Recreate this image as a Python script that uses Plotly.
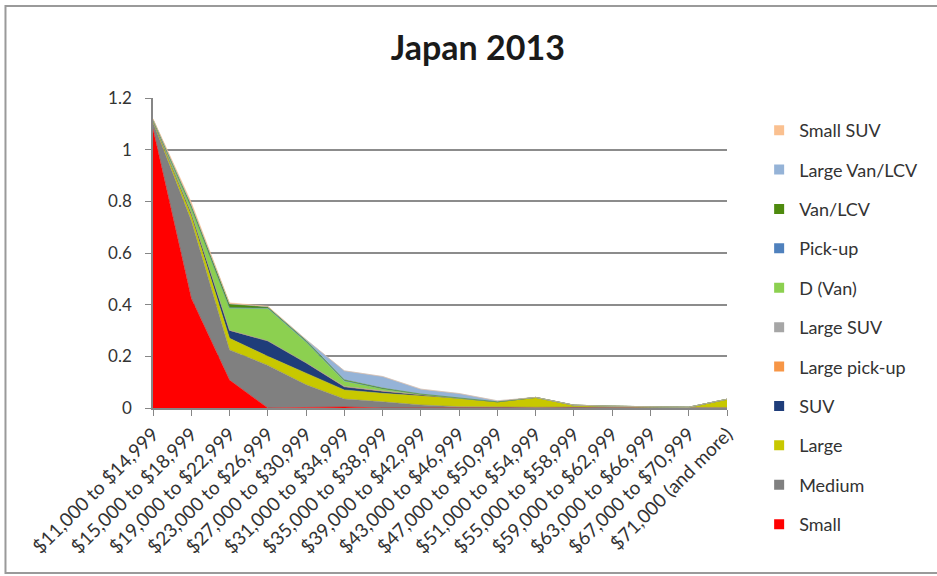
import plotly.graph_objects as go

# Price bands (x categories)
price_bands = [
    "$11,000 to $14,999", "$15,000 to $18,999", "$19,000 to $22,999",
    "$23,000 to $26,999", "$27,000 to $30,999", "$31,000 to $34,999",
    "$35,000 to $38,999", "$39,000 to $42,999", "$43,000 to $46,999",
    "$47,000 to $50,999", "$51,000 to $54,999", "$55,000 to $58,999",
    "$59,000 to $62,999", "$63,000 to $66,999", "$67,000 to $70,999",
    "$71,000 (and more)",
]

# Segment values, bottom of the stack first
small =          [1.080, 0.425, 0.108, 0.000, 0.002, 0.004, 0.000, 0.000, 0.000, 0.000, 0.000, 0.000, 0.000, 0.000, 0.000, 0.000]
medium =         [0.025, 0.300, 0.117, 0.165, 0.088, 0.031, 0.024, 0.012, 0.005, 0.003, 0.003, 0.004, 0.003, 0.002, 0.002, 0.002]
large =          [0.005, 0.020, 0.045, 0.035, 0.045, 0.035, 0.033, 0.036, 0.032, 0.021, 0.038, 0.007, 0.004, 0.002, 0.001, 0.032]
suv =            [0.003, 0.010, 0.030, 0.060, 0.040, 0.012, 0.008, 0.003, 0.000, 0.000, 0.000, 0.000, 0.000, 0.000, 0.000, 0.000]
large_pickup =   [0.000, 0.001, 0.001, 0.000, 0.000, 0.000, 0.000, 0.000, 0.000, 0.000, 0.000, 0.000, 0.000, 0.000, 0.000, 0.000]
large_suv =      [0.000, 0.000, 0.000, 0.000, 0.000, 0.002, 0.002, 0.000, 0.000, 0.000, 0.000, 0.000, 0.000, 0.000, 0.000, 0.000]
d_van =          [0.002, 0.020, 0.085, 0.125, 0.080, 0.020, 0.008, 0.003, 0.002, 0.000, 0.000, 0.000, 0.000, 0.000, 0.000, 0.000]
pickup =         [0.000, 0.000, 0.002, 0.002, 0.003, 0.002, 0.000, 0.000, 0.000, 0.000, 0.000, 0.000, 0.000, 0.000, 0.000, 0.000]
van_lcv =        [0.002, 0.010, 0.015, 0.005, 0.003, 0.003, 0.002, 0.000, 0.000, 0.000, 0.000, 0.000, 0.000, 0.000, 0.000, 0.000]
large_van_lcv =  [0.000, 0.000, 0.000, 0.000, 0.004, 0.035, 0.045, 0.019, 0.017, 0.004, 0.000, 0.000, 0.000, 0.000, 0.000, 0.000]
small_suv =      [0.003, 0.010, 0.004, 0.002, 0.000, 0.000, 0.000, 0.000, 0.000, 0.000, 0.000, 0.000, 0.000, 0.000, 0.000, 0.000]

series = [
    ("Small", small, "#ff0000"),
    ("Medium", medium, "#808080"),
    ("Large", large, "#c8c800"),
    ("SUV", suv, "#1f3d7a"),
    ("Large pick-up", large_pickup, "#f79646"),
    ("Large SUV", large_suv, "#a6a6a6"),
    ("D (Van)", d_van, "#8cd050"),
    ("Pick-up", pickup, "#4f81bd"),
    ("Van/LCV", van_lcv, "#4e8a0e"),
    ("Large Van/LCV", large_van_lcv, "#95b3d7"),
    ("Small SUV", small_suv, "#fac090"),
]

fig = go.Figure()
n = len(series)
for i, (name, vals, color) in enumerate(series):
    # stacked area layer
    fig.add_trace(go.Scatter(
        x=price_bands, y=vals, name=name,
        mode="lines", stackgroup="one",
        line=dict(width=0.5, color=color),
        fillcolor=color, showlegend=False,
        legendgroup=name,
    ))
    # square swatch for the legend (top of the stack listed first)
    fig.add_trace(go.Scatter(
        x=[None], y=[None], name=name, mode="markers",
        marker=dict(symbol="square", size=10, color=color),
        legendgroup=name, legendrank=n - i, showlegend=True,
        hoverinfo="skip",
    ))

font_family = "Lato, 'Open Sans', sans-serif"

fig.update_layout(
    width=937, height=576,
    margin=dict(l=153, r=210, t=98, b=168, autoexpand=False),
    paper_bgcolor="white", plot_bgcolor="white",
    title=dict(text="<b>Japan 2013</b>", x=0.51, xanchor="center",
               y=0.917, yanchor="middle",
               font=dict(family=font_family, size=34, color="#1a1a1a")),
    font=dict(family=font_family, size=16, color="#333333"),
    showlegend=True,
    legend=dict(traceorder="grouped", tracegroupgap=13,
                x=1.056, xanchor="left",
                y=0.955, yanchor="top",
                font=dict(size=18, color="#333333"),
                itemwidth=30, maxheight=540, bgcolor="rgba(0,0,0,0)"),
    shapes=[dict(type="rect", xref="paper", yref="paper",
                 x0=-0.257, x1=1.40, y0=-0.532, y1=1.297,
                 line=dict(color="#9a9a9a", width=2))],
)

fig.update_xaxes(
    type="category", range=[0, len(price_bands) - 1],
    tickangle=-45, ticks="outside", ticklen=6, tickcolor="#868686",
    showline=True, linecolor="#868686", linewidth=1.5, automargin=False,
    showgrid=False, tickfont=dict(size=19, color="#333333"),
)
fig.update_yaxes(
    range=[0, 1.2], tickvals=[0, 0.2, 0.4, 0.6, 0.8, 1.0, 1.2],
    ticktext=["0", "0.2", "0.4", "0.6", "0.8", "1", "1.2"],
    ticks="outside", ticklen=6, tickcolor="#868686",
    showline=True, linecolor="#868686", linewidth=1.5, automargin=False,
    showgrid=True, gridcolor="#8c8c8c", gridwidth=1.5,
    zeroline=False, ticklabelstandoff=10,
    tickfont=dict(size=17, color="#333333"),
)

fig.write_html("out.html")
